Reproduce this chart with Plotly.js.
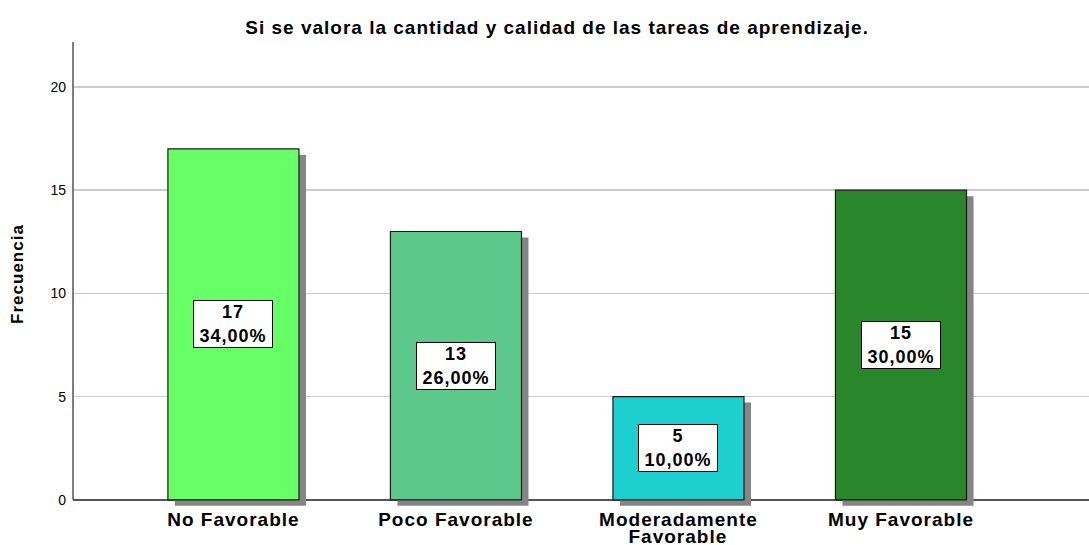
<!DOCTYPE html>
<html><head><meta charset="utf-8">
<script src="https://cdn.plot.ly/plotly-3.0.1.min.js"></script>
<style>
body{margin:0;background:#fff}#chart{width:1089px;height:545px}
.xtick text, .g-gtitle text, .annotation text, .g-ytitle text {letter-spacing:1px}
</style>
</head><body><div id="chart"></div>
<script>
const categories = ["No Favorable", "Poco Favorable", "Moderadamente Favorable", "Muy Favorable"];
const labelLines = [["No Favorable"], ["Poco Favorable"], ["Moderadamente", "Favorable"], ["Muy Favorable"]];
const counts = [17, 13, 5, 15];
const percents = ["34,00%", "26,00%", "10,00%", "30,00%"];
const colors = ["#66FF66", "#5CC98B", "#1ECFCF", "#2A862A"];
const yTicks = [0, 5, 10, 15, 20];

const barWidth = 0.589;
const shadowDx = 0.0315;
const shadowDy = 0.29;
const yMax = 22.18;
const yMin = -0.3;
const FONT = 'Liberation Sans, Arial';

const shadow = {
  type: 'bar', x: categories, y: counts, base: counts.map(() => -shadowDy),
  width: barWidth, offset: -barWidth / 2 + shadowDx,
  marker: {color: '#858585', line: {width: 0}},
  hoverinfo: 'skip', showlegend: false
};
const bars = {
  type: 'bar', x: categories, y: counts,
  width: barWidth,
  marker: {color: colors, line: {color: '#1a1a1a', width: 1.2}},
  showlegend: false
};

const annotations = categories.map((c, i) => ({
  x: c, y: counts[i] / 2, xref: 'x', yref: 'y',
  text: '<b>' + counts[i] + '<br>' + percents[i] + '</b>',
  showarrow: false, bgcolor: '#ffffff', bordercolor: '#000000', borderwidth: 1, borderpad: 1,
  width: 76, height: 44, valign: 'middle',
  font: {family: FONT, size: 18, color: '#000'}
}));
// extra lines of multi-line category labels
labelLines.forEach((lines, i) => {
  lines.slice(1).forEach((ln, k) => {
    annotations.push({
      x: categories[i], xref: 'x', y: 0, yref: 'paper', yanchor: 'middle',
      yshift: -(12 + 18 * (k + 1)), showarrow: false,
      text: '<b>' + ln + '</b>', font: {family: FONT, size: 19, color: '#000'}
    });
  });
});

const layout = {
  width: 1089, height: 545,
  margin: {l: 73, r: 0, t: 42, b: 39},
  paper_bgcolor: '#fff', plot_bgcolor: '#fff',
  barmode: 'overlay',
  font: {family: FONT, color: '#000'},
  title: {text: '<b>Si se valora la cantidad y calidad de las tareas de aprendizaje.</b>',
    font: {size: 19, family: FONT, color: '#000'},
    x: 0.4765, xref: 'paper', xanchor: 'center', y: 0.95, yref: 'container', yanchor: 'middle'},
  xaxis: {
    range: [-0.721, 3.845], showgrid: false, showline: false, zeroline: false,
    ticks: '', tickfont: {size: 19, family: FONT},
    tickvals: categories, ticktext: labelLines.map(l => '<b>' + l[0] + '</b>'),
    ticklabelstandoff: 0
  },
  yaxis: {
    range: [yMin, yMax], tickvals: yTicks, ticktext: yTicks.map(String),
    showgrid: true, gridcolor: '#cccccc', gridwidth: 1.5,
    zeroline: true, zerolinecolor: '#555555', zerolinewidth: 1.5,
    showline: false, ticks: '', tickfont: {size: 14}, ticklabelstandoff: 6,
    title: {text: '<b>Frecuencia</b>', font: {size: 17}, standoff: 22}
  },
  shapes: [
    {type: 'line', xref: 'paper', yref: 'y', x0: 0, x1: 0, y0: 0, y1: yMax,
     line: {color: '#555555', width: 1.5}, layer: 'above'}
  ],
  annotations: annotations
};

Plotly.newPlot('chart', [shadow, bars], layout, {displayModeBar: false, staticPlot: true});
</script></body></html>
